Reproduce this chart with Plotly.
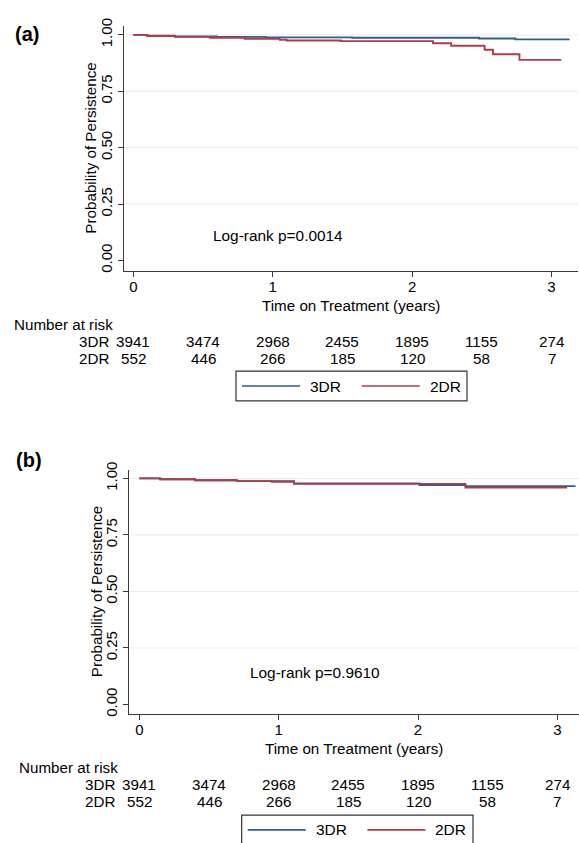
import plotly.graph_objects as go

# ---------------- data ----------------
SERIES = ["3DR", "2DR"]
COLORS = {"3DR": "#2f5f8f", "2DR": "#b33a4a"}

# Panel (a): Kaplan-Meier step points (time in years, probability of persistence)
A_3DR_T = [0, 0.10, 0.30, 0.60, 0.95, 1.57, 2.48, 2.74, 3.13]
A_3DR_S = [1.0, 0.996, 0.993, 0.991, 0.989, 0.987, 0.984, 0.980, 0.980]
A_2DR_T = [0, 0.10, 0.30, 0.55, 0.80, 1.05, 1.10, 1.49, 2.15, 2.28, 2.52, 2.58, 2.77, 3.07]
A_2DR_S = [1.0, 0.995, 0.991, 0.987, 0.983, 0.978, 0.975, 0.972, 0.963, 0.952, 0.934, 0.914, 0.889, 0.889]

# Panel (b)
B_3DR_T = [0, 0.15, 0.40, 0.70, 1.11, 2.01, 2.34, 3.13]
B_3DR_S = [1.0, 0.996, 0.992, 0.988, 0.978, 0.971, 0.966, 0.966]
B_2DR_T = [0, 0.15, 0.40, 0.70, 0.95, 1.11, 2.34, 3.07]
B_2DR_S = [1.0, 0.996, 0.992, 0.988, 0.985, 0.976, 0.960, 0.960]

# Number at risk table
RISK_TIMES = [0, 0.5, 1, 1.5, 2, 2.5, 3]
RISK_3DR = [3941, 3474, 2968, 2455, 1895, 1155, 274]
RISK_2DR = [552, 446, 266, 185, 120, 58, 7]

X_TICKS = [0, 1, 2, 3]
Y_TICKS = [0, 0.25, 0.5, 0.75, 1.0]
Y_TICK_TEXT = ["0.00", "0.25", "0.50", "0.75", "1.00"]
GRID_Y = [0.25, 0.5, 0.75, 1.0]

PANEL_LABELS = ["(a)", "(b)"]
PVALUES = ["Log-rank p=0.0014", "Log-rank p=0.9610"]
X_TITLE = "Time on Treatment (years)"
Y_TITLE = "Probability of Persistence"
RISK_TITLE = "Number at risk"

# ---------------- layout helpers ----------------
W, H = 579, 843
FONT = "Liberation Sans, Arial, sans-serif"
AXC = "#3a3a3a"
GRIDC = "#e4edf1"


def px(x):
    return x / W


def py(y):
    return 1 - y / H


panels = [
    dict(xa="x", ya="y", xdom=[px(124), px(578)], ydom=[py(266.7), py(18.3)],
         xr=[-0.067, 3.19], yr=[-0.048, 1.039],
         curves=[(A_3DR_T, A_3DR_S), (A_2DR_T, A_2DR_S)],
         label_xy=(12.5, 26.7), pval_xy=(1.037, 0.110),
         xtitle_y=300, ytitle_x=91, risk_title=(12, 320.7),
         row_label_right=110.5, rows_y=(338.3, 355.0),
         legend_box=(236, 368, 467, 398)),
    dict(xa="x2", ya="y2", xdom=[px(129.3), px(579)], ydom=[py(715), py(467.7)],
         xr=[-0.072, 3.155], yr=[-0.041, 1.039],
         curves=[(B_3DR_T, B_3DR_S), (B_2DR_T, B_2DR_S)],
         label_xy=(13.5, 458.3), pval_xy=(1.258, 0.141),
         xtitle_y=749.3, ytitle_x=96.5, risk_title=(17.3, 769.3),
         row_label_right=116.7, rows_y=(786.7, 804.3),
         legend_box=(241.7, 817.7, 473, 848)),
]

fig = go.Figure()
shapes = []
annotations = []

for i, p in enumerate(panels):
    for name, (t, s) in zip(SERIES, p["curves"]):
        fig.add_trace(go.Scatter(
            x=t, y=s, mode="lines", name=name, line_shape="hv",
            line=dict(color=COLORS[name], width=1.9),
            xaxis=p["xa"], yaxis=p["ya"], showlegend=False,
        ))

    suffix = "" if i == 0 else "2"
    axis_common = dict(
        showline=True, linecolor=AXC, linewidth=1.3,
        ticks="outside", ticklen=5, tickwidth=1.3, tickcolor=AXC,
        showgrid=False, zeroline=False, mirror=False,
        tickfont=dict(family=FONT, size=15, color="black"),
        fixedrange=True,
    )
    fig.update_layout(**{
        "xaxis" + suffix: dict(axis_common, domain=p["xdom"], range=p["xr"],
                                tickvals=X_TICKS, anchor=p["ya"], ticklabelstandoff=-3),
        "yaxis" + suffix: dict(axis_common, domain=p["ydom"], range=p["yr"],
                                tickvals=Y_TICKS, ticktext=Y_TICK_TEXT,
                                tickangle=-90, anchor=p["xa"]),
    })

    # light horizontal gridlines
    for g in GRID_Y:
        shapes.append(dict(type="line", xref=p["xa"] + " domain", yref=p["ya"],
                           x0=0, x1=1, y0=g, y1=g, layer="below",
                           line=dict(color=GRIDC, width=1)))

    # panel label
    annotations.append(dict(text="<b>%s</b>" % PANEL_LABELS[i], xref="paper", yref="paper",
                            x=px(p["label_xy"][0]), y=py(p["label_xy"][1]),
                            xanchor="left", yanchor="middle", showarrow=False,
                            font=dict(family=FONT, size=20, color="black")))
    # p-value text
    annotations.append(dict(text=PVALUES[i], xref=p["xa"], yref=p["ya"],
                            x=p["pval_xy"][0], y=p["pval_xy"][1],
                            xanchor="center", yanchor="middle", showarrow=False,
                            font=dict(family=FONT, size=15.4, color="black")))
    # axis titles
    annotations.append(dict(text=X_TITLE, xref=p["xa"] + " domain", yref="paper",
                            x=0.5, y=py(p["xtitle_y"] + 1), xanchor="center", yanchor="middle",
                            showarrow=False, font=dict(family=FONT, size=15.2, color="black")))
    annotations.append(dict(text=Y_TITLE, xref="paper", yref=p["ya"] + " domain",
                            x=px(p["ytitle_x"]), y=0.5, xanchor="center", yanchor="middle",
                            textangle=-90, showarrow=False,
                            font=dict(family=FONT, size=15.2, color="black")))
    # number at risk table
    annotations.append(dict(text=RISK_TITLE, xref="paper", yref="paper",
                            x=px(p["risk_title"][0]), y=py(p["risk_title"][1]),
                            xanchor="left", yanchor="middle", showarrow=False,
                            font=dict(family=FONT, size=15.2, color="black")))
    for name, vals, ry in zip(SERIES, [RISK_3DR, RISK_2DR], p["rows_y"]):
        annotations.append(dict(text=name, xref="paper", yref="paper",
                                x=px(p["row_label_right"]), y=py(ry),
                                xanchor="right", yanchor="middle", showarrow=False,
                                font=dict(family=FONT, size=15.2, color="black")))
        for t, v in zip(RISK_TIMES, vals):
            annotations.append(dict(text=str(v), xref=p["xa"], yref="paper",
                                    x=t, y=py(ry), xanchor="center", yanchor="middle",
                                    showarrow=False,
                                    font=dict(family=FONT, size=15.2, color="black")))

    # legend box (manual, Stata style)
    bx0, by0, bx1, by1 = p["legend_box"]
    shapes.append(dict(type="rect", xref="paper", yref="paper",
                       x0=px(bx0), x1=px(bx1), y0=py(by0), y1=py(by1),
                       line=dict(color="#333333", width=1.2), fillcolor="white"))
    ly = by0 + 15
    for k, name in enumerate(SERIES):
        off = k * 119.7
        shapes.append(dict(type="line", xref="paper", yref="paper",
                           x0=px(bx0 + 6 + off), x1=px(bx0 + 64 + off), y0=py(ly), y1=py(ly),
                           line=dict(color=COLORS[name], width=1.6)))
        annotations.append(dict(text=name, xref="paper", yref="paper",
                                x=px(bx0 + 72 + off), y=py(ly), xanchor="left", yanchor="middle",
                                showarrow=False,
                                font=dict(family=FONT, size=15.5, color="black")))

fig.update_layout(
    width=W, height=H,
    margin=dict(l=0, r=0, t=0, b=0),
    paper_bgcolor="white", plot_bgcolor="white",
    showlegend=False,
    shapes=shapes, annotations=annotations,
    font=dict(family=FONT, color="black"),
)

fig.write_html(
    "out.html",
    config={"displayModeBar": False},
    post_script="document.body.style.margin='0';document.body.style.overflow='hidden';",
)
